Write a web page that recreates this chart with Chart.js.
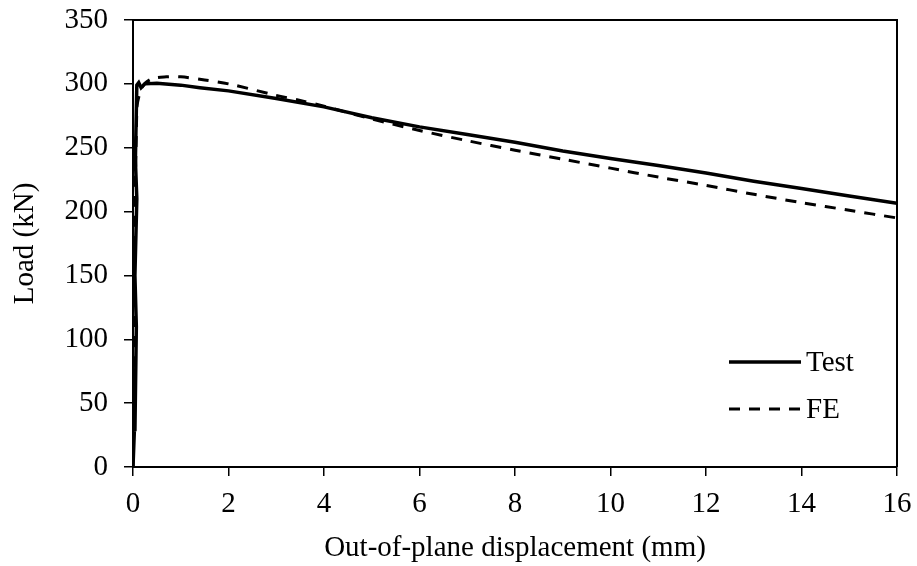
<!DOCTYPE html>
<html>
<head>
<meta charset="utf-8">
<script src="https://cdn.jsdelivr.net/npm/chart.js@4/dist/chart.umd.min.js"></script>
<style>
  html, body { margin: 0; padding: 0; background: #fff; }
  #wrap { width: 917px; height: 566px; }
</style>
</head>
<body>
<div id="wrap"><canvas id="chartLoad"></canvas></div>
<script>
// measured curve: displacement (mm) vs load (kN)
const testDisp = [0, 0.03, 0.04, 0.07, 0.04, 0.08, 0.05, 0.08, 0.12, 0.17, 0.25, 0.5, 1, 1.4, 2, 3, 4, 5, 6, 7, 8, 9, 10, 11, 12, 13, 14, 15, 16];
const testLoad = [0, 30, 28, 110, 150, 210, 240, 299, 301, 297, 300, 300.5, 299, 297, 294.5, 288.5, 282, 273.5, 266.3, 260.3, 254.3, 247.5, 241.6, 236, 230.2, 223.7, 218, 212.2, 206.5];

// finite element prediction
const feDisp = [0, 0.08, 0.2, 0.4, 0.7, 1, 1.5, 2, 3, 3.5, 4, 5, 6, 7, 8, 9, 10, 11, 12, 13, 14, 15, 16];
const feLoad = [0, 280, 298, 304, 305.5, 305.5, 303, 300, 291, 287, 282.5, 272.5, 263.5, 255.5, 248, 241, 234, 227, 220.5, 213.5, 207, 201, 195];

const xTicks = [0, 2, 4, 6, 8, 10, 12, 14, 16];
const yTicks = [0, 50, 100, 150, 200, 250, 300, 350];

const FONT = "'Liberation Serif', 'Times New Roman', serif";
const FSIZE = 29;

function toPoints(xs, ys) {
    return xs.map((x, i) => ({ x: x, y: ys[i] }));
}

// frame on top and right of the plot area
const framePlugin = {
    id: "frame",
    afterDraw(chart) {
        const { ctx, chartArea: a } = chart;
        ctx.save();
        ctx.strokeStyle = "#000";
        ctx.lineWidth = 2;
        ctx.beginPath();
        ctx.moveTo(a.left, a.top);
        ctx.lineTo(a.right, a.top);
        ctx.lineTo(a.right, a.bottom);
        ctx.stroke();
        ctx.restore();
    }
};

// legend inside the plot, lower right
const innerLegend = {
    id: "innerLegend",
    afterDraw(chart) {
        const ctx = chart.ctx;
        const rows = [362, 409];
        ctx.save();
        chart.data.datasets.forEach((ds, i) => {
            const y = rows[i];
            ctx.strokeStyle = ds.borderColor;
            ctx.lineWidth = ds.borderWidth;
            ctx.setLineDash(ds.borderDash || []);
            ctx.beginPath();
            ctx.moveTo(729, y);
            ctx.lineTo(801, y);
            ctx.stroke();
            ctx.setLineDash([]);
            ctx.fillStyle = "#000";
            ctx.font = FSIZE + "px " + FONT;
            ctx.textBaseline = "middle";
            ctx.fillText(ds.label, 806, y + 1);
        });
        ctx.restore();
    }
};

new Chart(document.getElementById("chartLoad"), {
    type: "scatter",
    data: {
        datasets: [
            {
                label: "Test",
                data: toPoints(testDisp, testLoad),
                showLine: true,
                borderColor: "#000",
                borderWidth: 3.5,
                pointRadius: 0,
                tension: 0
            },
            {
                label: "FE",
                data: toPoints(feDisp, feLoad),
                showLine: true,
                borderColor: "#000",
                borderWidth: 3,
                borderDash: [11, 9],
                pointRadius: 0,
                tension: 0.3
            }
        ]
    },
    options: {
        responsive: true,
        maintainAspectRatio: false,
        animation: false,
        layout: { padding: { top: 20, right: 20, left: 0, bottom: 0 } },
        plugins: {
            legend: { display: false },
            tooltip: { enabled: false }
        },
        scales: {
            x: {
                type: "linear",
                min: 0,
                max: 16,
                afterBuildTicks: (s) => { s.ticks = xTicks.map(v => ({ value: v })); },
                afterFit: (s) => { s.height = 99; s.paddingLeft = 0; s.paddingRight = 0; },
                border: { color: "#000", width: 2 },
                grid: { drawOnChartArea: false, color: "#000", tickLength: 9, lineWidth: 1.5 },
                ticks: { color: "#000", font: { family: FONT, size: FSIZE }, padding: 11, maxRotation: 0 },
                title: { display: true, text: "Out-of-plane displacement (mm)", color: "#000", font: { family: FONT, size: FSIZE }, padding: { top: 2, bottom: 0 } }
            },
            y: {
                type: "linear",
                min: 0,
                max: 350,
                afterBuildTicks: (s) => { s.ticks = yTicks.map(v => ({ value: v })); },
                afterFit: (s) => { s.width = 133; s.paddingTop = 0; s.paddingBottom = 0; },
                border: { color: "#000", width: 2 },
                grid: { drawOnChartArea: false, color: "#000", tickLength: 9, lineWidth: 1.5 },
                ticks: { color: "#000", font: { family: FONT, size: FSIZE }, padding: 16 },
                title: { display: true, text: "Load (kN)", color: "#000", font: { family: FONT, size: FSIZE }, padding: { top: 8, bottom: 0 } }
            }
        }
    },
    plugins: [framePlugin, innerLegend]
});
</script>
</body>
</html>
